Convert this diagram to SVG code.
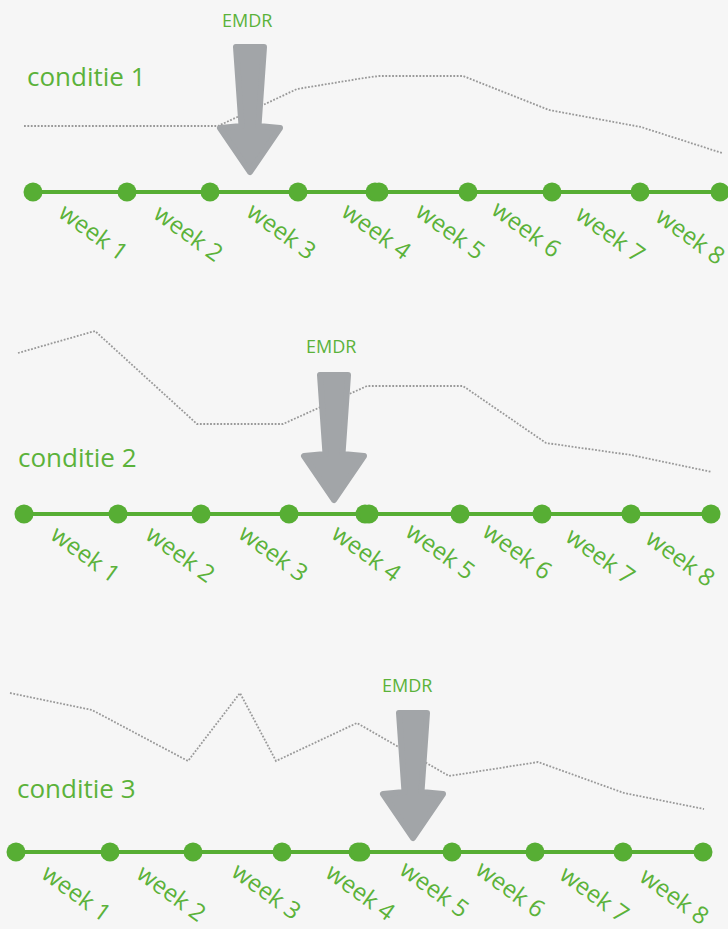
<svg xmlns="http://www.w3.org/2000/svg" width="728" height="929" viewBox="0 0 728 929">
  <defs>
    <style>
      .bg { fill: #f6f6f6; }
      .axis { stroke: #57ae34; stroke-width: 4; fill: none; }
      .dot { fill: #57ae34; }
      .trend { stroke: #999999; stroke-width: 1.8; fill: none; stroke-dasharray: 1.8 1.6; }
      .title { font-family: "Open Sans", "Liberation Sans", sans-serif; font-size: 26px; fill: #5bb23a; }
      .emdr { font-family: "Open Sans", "Liberation Sans", sans-serif; font-size: 18px; fill: #5bb23a; }
      .week { font-family: "Open Sans", "Liberation Sans", sans-serif; font-size: 24px; fill: #5bb23a; }
      .arrow { fill: #a2a5a8; stroke: #a2a5a8; stroke-width: 6; stroke-linejoin: round; }
    </style>
    <!-- thick down arrow, origin at top centre of the shaft -->
    <polygon id="downArrow" class="arrow" points="-14,3 14,3 8.5,82 30,84 0,128 -30,84 -8.5,82"/>
  </defs>

  <rect class="bg" x="0" y="0" width="728" height="929"/>

  <!-- ===== condition 1 ===== -->
  <g id="condition1">
    <text class="title" x="27" y="86">conditie 1</text>
    <polyline class="trend" points="24,126 218,126 263,105 297,89 364,78 379,76 463,76 549,110 641,127 722,153"/>
    <text class="emdr" x="222" y="27">EMDR</text>
    <use href="#downArrow" x="250" y="44"/>
    <line class="axis" x1="33" y1="192" x2="721" y2="192"/>
    <g id="c1-dots">
      <circle class="dot" cx="33" cy="192" r="9.5"/>
      <circle class="dot" cx="127" cy="192" r="9.5"/>
      <circle class="dot" cx="210" cy="192" r="9.5"/>
      <circle class="dot" cx="298" cy="192" r="9.5"/>
      <circle class="dot" cx="375" cy="192" r="9.5"/>
      <circle class="dot" cx="379" cy="192" r="9.5"/>
      <circle class="dot" cx="468" cy="192" r="9.5"/>
      <circle class="dot" cx="552" cy="192" r="9.5"/>
      <circle class="dot" cx="640" cy="192" r="9.5"/>
      <circle class="dot" cx="720" cy="192" r="9.5"/>
    </g>
    <g id="c1-weeks">
      <text class="week" transform="translate(57,216) rotate(36)">week 1</text>
      <text class="week" transform="translate(152,217) rotate(36)">week 2</text>
      <text class="week" transform="translate(245,215) rotate(36)">week 3</text>
      <text class="week" transform="translate(340,215) rotate(36)">week 4</text>
      <text class="week" transform="translate(414,215) rotate(36)">week 5</text>
      <text class="week" transform="translate(490,213) rotate(36)">week 6</text>
      <text class="week" transform="translate(574,218) rotate(36)">week 7</text>
      <text class="week" transform="translate(654,220) rotate(36)">week 8</text>
    </g>
  </g>

  <!-- ===== condition 2 ===== -->
  <g id="condition2">
    <text class="title" x="18" y="467">conditie 2</text>
    <polyline class="trend" points="18,353 95,331 197,424 283,424 367,386 463,386 546,443 631,455 712,472"/>
    <text class="emdr" x="306" y="353">EMDR</text>
    <use href="#downArrow" x="334" y="372"/>
    <line class="axis" x1="24" y1="514" x2="711" y2="514"/>
    <g id="c2-dots">
      <circle class="dot" cx="24" cy="514" r="9.5"/>
      <circle class="dot" cx="118" cy="514" r="9.5"/>
      <circle class="dot" cx="201" cy="514" r="9.5"/>
      <circle class="dot" cx="289" cy="514" r="9.5"/>
      <circle class="dot" cx="365" cy="514" r="9.5"/>
      <circle class="dot" cx="369" cy="514" r="9.5"/>
      <circle class="dot" cx="460" cy="514" r="9.5"/>
      <circle class="dot" cx="542" cy="514" r="9.5"/>
      <circle class="dot" cx="631" cy="514" r="9.5"/>
      <circle class="dot" cx="711" cy="514" r="9.5"/>
    </g>
    <g id="c2-weeks">
      <text class="week" transform="translate(49,538) rotate(36)">week 1</text>
      <text class="week" transform="translate(144,538) rotate(36)">week 2</text>
      <text class="week" transform="translate(237,537) rotate(36)">week 3</text>
      <text class="week" transform="translate(330,537) rotate(36)">week 4</text>
      <text class="week" transform="translate(404,535) rotate(36)">week 5</text>
      <text class="week" transform="translate(481,535) rotate(36)">week 6</text>
      <text class="week" transform="translate(564,540) rotate(36)">week 7</text>
      <text class="week" transform="translate(644,542) rotate(36)">week 8</text>
    </g>
  </g>

  <!-- ===== condition 3 ===== -->
  <g id="condition3">
    <text class="title" x="17" y="798">conditie 3</text>
    <polyline class="trend" points="10,693 92,710 188,761 240,693 276,761 357,723 449,776 538,762 624,793 704,809"/>
    <text class="emdr" x="382" y="692">EMDR</text>
    <use href="#downArrow" x="413" y="710"/>
    <line class="axis" x1="16" y1="852" x2="703" y2="852"/>
    <g id="c3-dots">
      <circle class="dot" cx="16" cy="852" r="9.5"/>
      <circle class="dot" cx="110" cy="852" r="9.5"/>
      <circle class="dot" cx="193" cy="852" r="9.5"/>
      <circle class="dot" cx="282" cy="852" r="9.5"/>
      <circle class="dot" cx="358" cy="852" r="9.5"/>
      <circle class="dot" cx="361" cy="852" r="9.5"/>
      <circle class="dot" cx="452" cy="852" r="9.5"/>
      <circle class="dot" cx="535" cy="852" r="9.5"/>
      <circle class="dot" cx="623" cy="852" r="9.5"/>
      <circle class="dot" cx="703" cy="852" r="9.5"/>
    </g>
    <g id="c3-weeks">
      <text class="week" transform="translate(40,877) rotate(36)">week 1</text>
      <text class="week" transform="translate(135,877) rotate(36)">week 2</text>
      <text class="week" transform="translate(230,875) rotate(36)">week 3</text>
      <text class="week" transform="translate(324,876) rotate(36)">week 4</text>
      <text class="week" transform="translate(398,873) rotate(36)">week 5</text>
      <text class="week" transform="translate(474,873) rotate(36)">week 6</text>
      <text class="week" transform="translate(558,878) rotate(36)">week 7</text>
      <text class="week" transform="translate(638,880) rotate(36)">week 8</text>
    </g>
  </g>
</svg>
